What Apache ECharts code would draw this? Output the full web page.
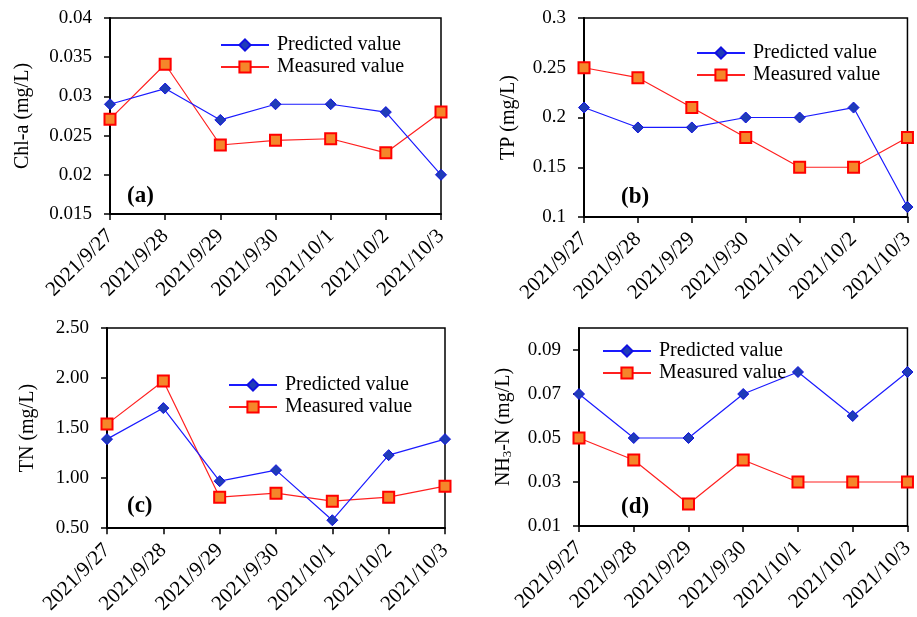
<!DOCTYPE html>
<html>
<head>
<meta charset="utf-8">
<script src="https://cdn.jsdelivr.net/npm/echarts@6/dist/echarts.min.js"></script>
<style>
  html, body { margin: 0; padding: 0; background: #fff; }
  #chart { width: 917px; height: 617px; }
</style>
</head>
<body>
<div id="chart"></div>
<script>
const dates = ['2021/9/27', '2021/9/28', '2021/9/29', '2021/9/30', '2021/10/1', '2021/10/2', '2021/10/3']

const chlPredicted = [0.029, 0.031, 0.027, 0.029, 0.029, 0.028, 0.020]
const chlMeasured = [0.0271, 0.0341, 0.0238, 0.0244, 0.0246, 0.0228, 0.028]

const tpPredicted = [0.21, 0.19, 0.19, 0.20, 0.20, 0.21, 0.11]
const tpMeasured = [0.25, 0.24, 0.21, 0.18, 0.15, 0.15, 0.18]

const tnPredicted = [1.39, 1.70, 0.97, 1.08, 0.58, 1.23, 1.39]
const tnMeasured = [1.54, 1.97, 0.81, 0.85, 0.77, 0.81, 0.92]

const nhPredicted = [0.07, 0.05, 0.05, 0.07, 0.08, 0.06, 0.08]
const nhMeasured = [0.05, 0.04, 0.02, 0.04, 0.03, 0.03, 0.03]
const nhTicks = [0.01, 0.03, 0.05, 0.07, 0.09]

const FONT = '"Liberation Serif", "Times New Roman", serif'

const grids = [
  { left: 110, top: 18, width: 331, height: 196 },
  { left: 584, top: 18, width: 330, height: 199 },
  { left: 107, top: 328, width: 338, height: 201 },
  { left: 579, top: 328, width: 337, height: 198 },
]

function xAxis(i) {
  return {
    type: 'category',
    gridIndex: i,
    data: dates,
    boundaryGap: false,
    axisLine: { lineStyle: { color: '#000', width: 2 } },
    axisTick: { show: true, length: 6, lineStyle: { color: '#000', width: 1.5 } },
    axisLabel: { rotate: 45, color: '#000', fontFamily: FONT, fontSize: 21, margin: 19, interval: 0 },
    splitLine: { show: false },
  }
}

function yAxis(i, name, min, max, interval, fmt, gap) {
  return {
    type: 'value',
    gridIndex: i,
    min,
    max,
    interval,
    name,
    nameLocation: 'middle',
    nameGap: gap,
    nameTextStyle: {
      color: '#000',
      fontFamily: FONT,
      fontSize: 20,
      rich: {
        sub: { fontFamily: FONT, fontSize: 13, verticalAlign: 'bottom', padding: [8, 0, 0, 0] },
      },
    },
    axisLine: { show: true, lineStyle: { color: '#000', width: 2 } },
    axisTick: { show: true, length: 6, lineStyle: { color: '#000', width: 1.5 } },
    axisLabel: { color: '#000', fontFamily: FONT, fontSize: 19, margin: 18, formatter: fmt },
    splitLine: { show: false },
  }
}

function predicted(i, data) {
  return {
    name: 'Predicted value',
    type: 'line',
    xAxisIndex: i,
    yAxisIndex: i,
    data,
    symbol: 'diamond',
    symbolSize: 11,
    lineStyle: { color: '#1a1aff', width: 1.2 },
    itemStyle: { color: '#1f3cb8', borderColor: '#1010e0', borderWidth: 1 },
    clip: false,
    z: 3,
  }
}

function measured(i, data) {
  return {
    name: 'Measured value',
    type: 'line',
    xAxisIndex: i,
    yAxisIndex: i,
    data,
    symbol: 'rect',
    symbolSize: 11,
    lineStyle: { color: '#ff2020', width: 1.2 },
    itemStyle: { color: '#f5862a', borderColor: '#ff0000', borderWidth: 2 },
    clip: false,
    z: 2,
  }
}

function legend(i, left, top) {
  return {
    gridIndex: i,
    left,
    top,
    padding: 0,
    orient: 'vertical',
    itemWidth: 48,
    itemHeight: 14,
    itemGap: 2,
    data: ['Predicted value', 'Measured value'],
    textStyle: { color: '#000', fontFamily: FONT, fontSize: 20, padding: [0, 0, 0, 3] },
    selectedMode: false,
  }
}

const two = (v) => v.toFixed(2)

const chart = echarts.init(document.getElementById('chart'))
chart.setOption({
  backgroundColor: '#fff',
  animation: false,
  grid: grids.map((g) => ({ ...g, show: true, borderColor: '#000', borderWidth: 1.5, backgroundColor: 'transparent' })),
  xAxis: [0, 1, 2, 3].map(xAxis),
  yAxis: [
    yAxis(0, 'Chl-a (mg/L)', 0.015, 0.04, 0.005, null, 77),
    yAxis(1, 'TP (mg/L)', 0.1, 0.3, 0.05, null, 65),
    yAxis(2, 'TN (mg/L)', 0.5, 2.5, 0.5, two, 69),
    {
      ...yAxis(3, 'NH{sub|3}-N (mg/L)', 0.01, 0.1, null, two, 65),
      interval: undefined,
      axisTick: { show: true, length: 6, lineStyle: { color: '#000', width: 1.5 }, customValues: nhTicks },
      axisLabel: { color: '#000', fontFamily: FONT, fontSize: 19, margin: 18, formatter: two, customValues: nhTicks },
    },
  ],
  legend: [
    legend(0, 220, 35),
    legend(1, 696, 43),
    legend(2, 228, 375),
    legend(3, 602, 341),
  ],
  title: [
    { text: '(a)', left: 127, top: 185 },
    { text: '(b)', left: 621, top: 186 },
    { text: '(c)', left: 127, top: 495 },
    { text: '(d)', left: 621, top: 496 },
  ].map((t) => ({ ...t, padding: 0, textStyle: { color: '#000', fontFamily: FONT, fontSize: 23, fontWeight: 'bold' } })),
  series: [
    measured(0, chlMeasured), predicted(0, chlPredicted),
    measured(1, tpMeasured), predicted(1, tpPredicted),
    measured(2, tnMeasured), predicted(2, tnPredicted),
    measured(3, nhMeasured), predicted(3, nhPredicted),
  ],
})
</script>
</body>
</html>
